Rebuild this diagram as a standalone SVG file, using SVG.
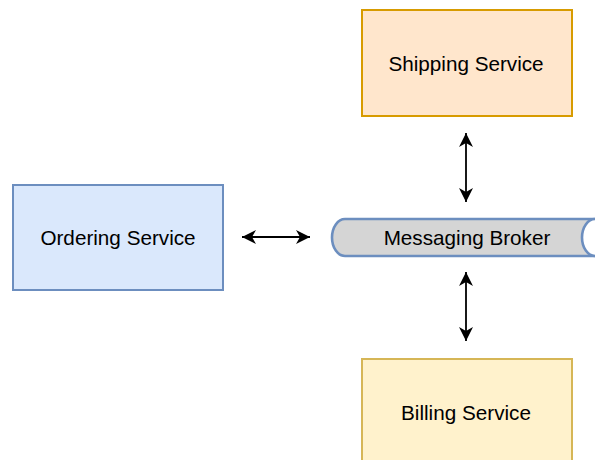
<svg xmlns="http://www.w3.org/2000/svg" width="595" height="460" viewBox="0 0 595 460">
  <defs>
    <marker id="arrow" viewBox="0 0 14 14" refX="14" refY="7" markerWidth="14" markerHeight="14" markerUnits="userSpaceOnUse" orient="auto-start-reverse">
      <path d="M0,0 L14,7 L0,14 L4,7 Z" fill="#000"/>
    </marker>
    <style>
      .box { stroke-width: 2; }
      .label { font-family: "Liberation Sans", Arial, sans-serif; font-size: 20.7px; fill: #000; text-anchor: middle; }
      .link { stroke: #000; stroke-width: 1.8; fill: none; marker-start: url(#arrow); marker-end: url(#arrow); }
    </style>
  </defs>
  <rect width="595" height="460" fill="#fff"/>

  <g id="shipping-service">
    <rect class="box" x="362" y="10" width="210" height="106" fill="#ffe6cc" stroke="#d79b00"/>
    <text class="label" x="466" y="71">Shipping Service</text>
  </g>

  <g id="ordering-service">
    <rect class="box" x="13" y="185" width="210" height="105" fill="#dae8fc" stroke="#6c8ebf"/>
    <text class="label" x="118" y="245">Ordering Service</text>
  </g>

  <g id="messaging-broker">
    <path d="M345,219 L595,219 A13,18.5 0 0 1 595,256 L345,256 A13,18.5 0 0 1 345,219 Z" fill="#d5d5d5" stroke="#6c8ebf" stroke-width="2.6"/>
    <path d="M595,219 A13,18.5 0 0 0 595,256" fill="#fff" stroke="#6c8ebf" stroke-width="2.6"/>
    <text class="label" x="467" y="245">Messaging Broker</text>
  </g>

  <g id="billing-service">
    <rect class="box" x="362" y="359" width="210" height="110" fill="#fff2cc" stroke="#d6b656"/>
    <text class="label" x="466" y="420">Billing Service</text>
  </g>

  <g id="connectors">
    <line class="link" x1="242" y1="237" x2="310" y2="237"/>
    <line class="link" x1="466" y1="133" x2="466" y2="202"/>
    <line class="link" x1="466" y1="272" x2="466" y2="341"/>
  </g>
</svg>
